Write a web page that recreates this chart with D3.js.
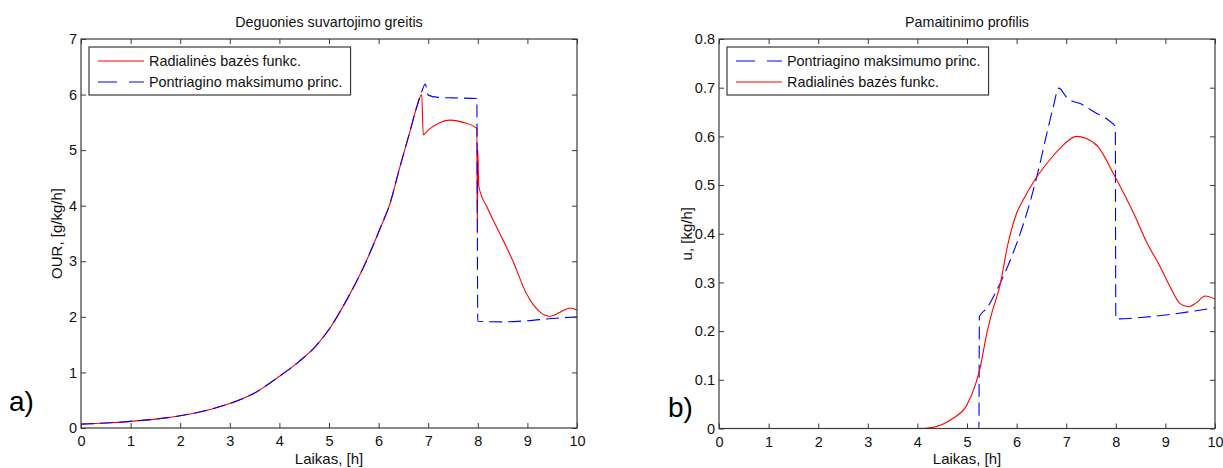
<!DOCTYPE html>
<html>
<head>
<meta charset="utf-8">
<script src="https://cdn.jsdelivr.net/npm/d3@7"></script>
<style>
    body { margin: 0; background: #fff; }
    svg text { font-family: "Liberation Sans", Arial, sans-serif; }
</style>
</head>
<body>
<svg width="1223" height="468"></svg>
<script>
// time axis (both panels)
const timeTicks = [0, 1, 2, 3, 4, 5, 6, 7, 8, 9, 10];

// a) Deguonies suvartojimo greitis - OUR [g/kg/h]
const ourTicks = [0, 1, 2, 3, 4, 5, 6, 7];
const ourRbfTime = [0, 0.5, 1, 1.5, 2, 2.5, 3, 3.5, 4, 4.4, 4.72, 5.02, 5.36, 5.7, 6.03, 6.23, 6.43, 6.63, 6.77,
    6.87, 6.9, 7.0, 7.2, 7.45, 7.7, 7.98, 7.99, 8.0, 8.02, 8.2, 8.5, 8.71, 8.98, 9.25, 9.46, 9.65, 9.86, 10];
const ourRbf = [0.07, 0.09, 0.12, 0.16, 0.22, 0.31, 0.44, 0.63, 0.93, 1.2, 1.46, 1.8, 2.31, 2.9, 3.59, 4.04, 4.7, 5.33, 5.78,
    6.0, 5.28, 5.36, 5.48, 5.54, 5.5, 5.39, 3.5, 5.0, 4.35, 3.95, 3.4, 3.0, 2.42, 2.09, 2.01, 2.08, 2.16, 2.12];
const ourPmpTime = [0, 0.5, 1, 1.5, 2, 2.5, 3, 3.5, 4, 4.4, 4.72, 5.02, 5.36, 5.7, 6.03, 6.23, 6.43, 6.63, 6.77,
    6.87, 6.94, 7.0, 7.2, 7.5, 7.98, 8.0, 8.5, 9, 9.5, 10];
const ourPmp = [0.07, 0.09, 0.12, 0.16, 0.22, 0.31, 0.44, 0.63, 0.93, 1.2, 1.46, 1.8, 2.31, 2.9, 3.59, 4.04, 4.7, 5.33, 5.78,
    6.05, 6.19, 5.99, 5.95, 5.94, 5.93, 1.92, 1.91, 1.93, 1.97, 2.0];

// b) Pamaitinimo profilis - u [kg/h]
const uTicks = [0, 0.1, 0.2, 0.3, 0.4, 0.5, 0.6, 0.7, 0.8];
const uTickLabels = ["0", "0.1", "0.2", "0.3", "0.4", "0.5", "0.6", "0.7", "0.8"];
const uPmpTime = [1.67, 3, 5.24, 5.25, 5.4, 5.57, 5.9, 6.14, 6.4, 6.61, 6.74, 6.85, 7.01, 7.35, 7.55, 7.88, 7.99, 8.0, 8.5, 9, 9.5, 10];
const uPmp = [0, 0, 0, 0.23, 0.247, 0.278, 0.353, 0.421, 0.514, 0.606, 0.661, 0.699, 0.68, 0.664, 0.651, 0.631, 0.62, 0.225, 0.228, 0.233, 0.24, 0.248];
const uRbfTime = [0, 1, 2, 3, 4, 4.3, 4.5, 4.72, 4.99, 5.17, 5.27, 5.4, 5.5, 5.66, 5.83, 6.0, 6.14, 6.37, 6.67, 6.9, 7.21, 7.4, 7.64,
    7.98, 8.36, 8.63, 8.89, 9.09, 9.29, 9.46, 9.62, 9.8, 10];
const uRbf = [0, 0, 0, 0, 0, 0.002, 0.008, 0.021, 0.047, 0.09, 0.127, 0.196, 0.237, 0.292, 0.381, 0.442, 0.471, 0.511, 0.552, 0.578, 0.6, 0.596, 0.579,
    0.518, 0.442, 0.381, 0.333, 0.292, 0.257, 0.25, 0.258, 0.272, 0.266];

const svg = d3.select("svg");
const axisColor = "#3a3a3a";

function drawPanel(p) {
    let x = d3.scaleLinear().domain([0, 10]).range([p.left, p.right]);
    let y = d3.scaleLinear().domain([0, p.yMax]).range([p.bottom, p.top]);

    let g = svg.append("g");

    // lines, in plotting order
    p.series.forEach(function(s) {
        let pts = s.time.map(function(t, i) { return [t, s.values[i]]; });
        let line = d3.line()
            .x(function(d) { return x(d[0]); })
            .y(function(d) { return y(d[1]); })
            .curve(d3.curveMonotoneX);
        g.append("path")
            .attr("d", line(pts))
            .attr("fill", "none")
            .attr("stroke", s.color)
            .attr("stroke-width", 1.1)
            .attr("stroke-dasharray", s.dash ? "13,6" : null);
    });

    // axes, ticks point inwards
    g.append("g").attr("transform", "translate(0," + p.bottom + ")")
        .call(d3.axisBottom(x).tickValues(timeTicks).tickFormat(d3.format("d")).tickSize(-5).tickPadding(8));
    g.append("g").attr("transform", "translate(0," + p.top + ")")
        .call(d3.axisTop(x).tickValues(timeTicks).tickFormat("").tickSize(-5));
    g.append("g").attr("transform", "translate(" + p.left + ",0)")
        .call(d3.axisLeft(y).tickValues(p.yTicks).tickFormat(function(d, i) { return p.yLabels[i]; }).tickSize(-5).tickPadding(4));
    g.append("g").attr("transform", "translate(" + p.right + ",0)")
        .call(d3.axisRight(y).tickValues(p.yTicks).tickFormat("").tickSize(-5));

    g.selectAll(".domain").remove();
    g.selectAll(".tick line").attr("stroke", axisColor);
    g.selectAll(".tick text").attr("font-size", "14.5px").attr("fill", "#111")
        .attr("font-family", "Liberation Sans, Arial, sans-serif");

    g.append("rect")
        .attr("x", p.left).attr("y", p.top)
        .attr("width", p.right - p.left).attr("height", p.bottom - p.top)
        .attr("fill", "none").attr("stroke", axisColor).attr("stroke-width", 1.2);

    // title + axis labels
    g.append("text").attr("x", (p.left + p.right) / 2).attr("y", 27)
        .attr("text-anchor", "middle").attr("font-size", "14.3px").attr("fill", "#111").text(p.title);
    g.append("text").attr("x", (p.left + p.right) / 2).attr("y", 464)
        .attr("text-anchor", "middle").attr("font-size", "15px").attr("fill", "#111").text("Laikas, [h]");
    g.append("text")
        .attr("transform", "translate(" + p.yLabelX + "," + ((p.top + p.bottom) / 2) + ") rotate(-90)")
        .attr("text-anchor", "middle").attr("font-size", "15px").attr("fill", "#111").text(p.yLabel);

    // legend
    let lg = g.append("g");
    let lx = p.left + 8, ly = p.top + 8;
    let entries = p.series.slice().sort(function(a, b) { return a.legendOrder - b.legendOrder; });
    let maxW = 0;
    entries.forEach(function(s, i) {
        let cy = ly + 14 + i * 21;
        lg.append("line")
            .attr("x1", lx + 9).attr("x2", lx + 55)
            .attr("y1", cy).attr("y2", cy)
            .attr("stroke", s.color).attr("stroke-width", 1.1)
            .attr("stroke-dasharray", s.dash ? "19,12" : null);
        let t = lg.append("text").attr("x", lx + 60).attr("y", cy + 5)
            .attr("font-size", "14.4px").attr("fill", "#111").text(s.name);
        maxW = Math.max(maxW, t.node().getComputedTextLength());
    });
    lg.insert("rect", ":first-child")
        .attr("x", lx).attr("y", ly)
        .attr("width", 60 + maxW + 8).attr("height", 48)
        .attr("fill", "#fff").attr("stroke", axisColor).attr("stroke-width", 1.2);

    // panel letter
    g.append("text").attr("x", p.letterX).attr("y", p.letterY)
        .attr("font-family", "Lato, 'Open Sans', sans-serif")
        .attr("font-size", "28px").attr("fill", "#000").text(p.letter);
}

drawPanel({
    left: 81, right: 577, top: 39, bottom: 428,
    yMax: 7, yTicks: ourTicks, yLabels: ourTicks.map(String),
    title: "Deguonies suvartojimo greitis",
    yLabel: "OUR, [g/kg/h]", yLabelX: 62,
    letter: "a)", letterX: 9, letterY: 411,
    series: [
        { name: "Radialinės bazės funkc.", time: ourRbfTime, values: ourRbf, color: "#ff0000", dash: false, legendOrder: 0 },
        { name: "Pontriagino maksimumo princ.", time: ourPmpTime, values: ourPmp, color: "#0000ff", dash: true, legendOrder: 1 }
    ]
});

drawPanel({
    left: 719, right: 1215, top: 39, bottom: 428.5,
    yMax: 0.8, yTicks: uTicks, yLabels: uTickLabels,
    title: "Pamaitinimo profilis",
    yLabel: "u, [kg/h]", yLabelX: 692,
    letter: "b)", letterX: 668, letterY: 417,
    series: [
        { name: "Pontriagino maksimumo princ.", time: uPmpTime, values: uPmp, color: "#0000ff", dash: true, legendOrder: 0 },
        { name: "Radialinės bazės funkc.", time: uRbfTime, values: uRbf, color: "#ff0000", dash: false, legendOrder: 1 }
    ]
});
</script>
</body>
</html>
